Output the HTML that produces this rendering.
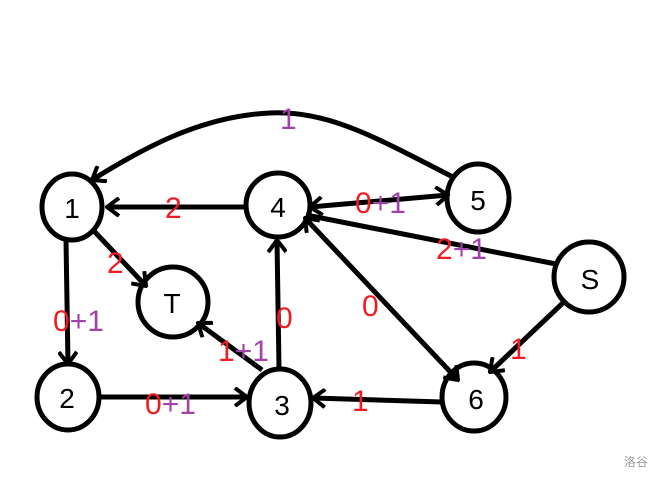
<!DOCTYPE html>
<html><head><style>
body{margin:0;background:#fff;}
svg{display:block;font-family:"Liberation Sans","Noto Sans CJK SC",sans-serif;}
.r{fill:#f01c24}.p{fill:#a042a8}
</style></head><body>
<svg width="664" height="481" viewBox="0 0 664 481">
<defs>
<marker id="a" viewBox="-14 -10 16 20" refX="0" refY="0" markerWidth="16" markerHeight="20" markerUnits="userSpaceOnUse" orient="auto-start-reverse">
<path d="M-12,-9 L0,0 L-12,9" fill="none" stroke="#000" stroke-width="4"/>
</marker>
</defs>
<g stroke="#000" stroke-width="5" fill="none">
<path d="M455,178 C380,140 330,110 270,113 C200,116 140,150 92,180" marker-end="url(#a)"/>
<line x1="246" y1="207" x2="107" y2="207" marker-end="url(#a)"/>
<line x1="310" y1="207" x2="448" y2="195" marker-start="url(#a)" marker-end="url(#a)"/>
<line x1="556" y1="264" x2="306" y2="215"/>
<line x1="305" y1="218" x2="458" y2="380" marker-start="url(#a)" marker-end="url(#a)"/>
<line x1="94" y1="231" x2="146" y2="286" marker-end="url(#a)"/>
<line x1="66" y1="240" x2="68" y2="364" marker-end="url(#a)"/>
<line x1="101" y1="397" x2="247" y2="397" marker-end="url(#a)"/>
<line x1="279" y1="368" x2="277" y2="240" marker-end="url(#a)"/>
<line x1="262" y1="370" x2="198" y2="323" marker-end="url(#a)"/>
<line x1="442" y1="402" x2="313" y2="398" marker-end="url(#a)"/>
<line x1="566" y1="300" x2="490" y2="372" marker-end="url(#a)"/>
<ellipse cx="72" cy="207" rx="30" ry="33"/>
<ellipse cx="278" cy="205" rx="32" ry="32"/>
<ellipse cx="478" cy="198" rx="31" ry="34"/>
<ellipse cx="173" cy="302" rx="35" ry="35"/>
<ellipse cx="589" cy="277" rx="35" ry="35"/>
<ellipse cx="68" cy="397" rx="31" ry="33"/>
<ellipse cx="280" cy="403" rx="31" ry="34"/>
<ellipse cx="474" cy="397" rx="32" ry="34"/>
</g>
<g font-size="28" text-anchor="middle" fill="#000">
<text x="72" y="218">1</text>
<text x="278" y="217">4</text>
<text x="478" y="210">5</text>
<text x="172" y="313">T</text>
<text x="590" y="289">S</text>
<text x="67" y="408">2</text>
<text x="282" y="415">3</text>
<text x="476" y="409">6</text>
</g>
<g font-size="30">
<text x="280" y="129" class="p">1</text>
<text x="165" y="218" class="r">2</text>
<text x="355" y="213" class="r">0<tspan class="p">+1</tspan></text>
<text x="436" y="259" class="r">2<tspan class="p">+1</tspan></text>
<text x="107" y="273" class="r">2</text>
<text x="53" y="331" class="r">0<tspan class="p">+1</tspan></text>
<text x="218" y="361" class="r">1<tspan class="p">+1</tspan></text>
<text x="276" y="328" class="r">0</text>
<text x="362" y="316" class="r">0</text>
<text x="510" y="359" class="r">1</text>
<text x="352" y="411" class="r">1</text>
<text x="145" y="414" class="r">0<tspan class="p">+1</tspan></text>
</g>
<text x="636" y="466" font-size="12" fill="#999" text-anchor="middle">洛谷</text>
</svg>
</body></html>
